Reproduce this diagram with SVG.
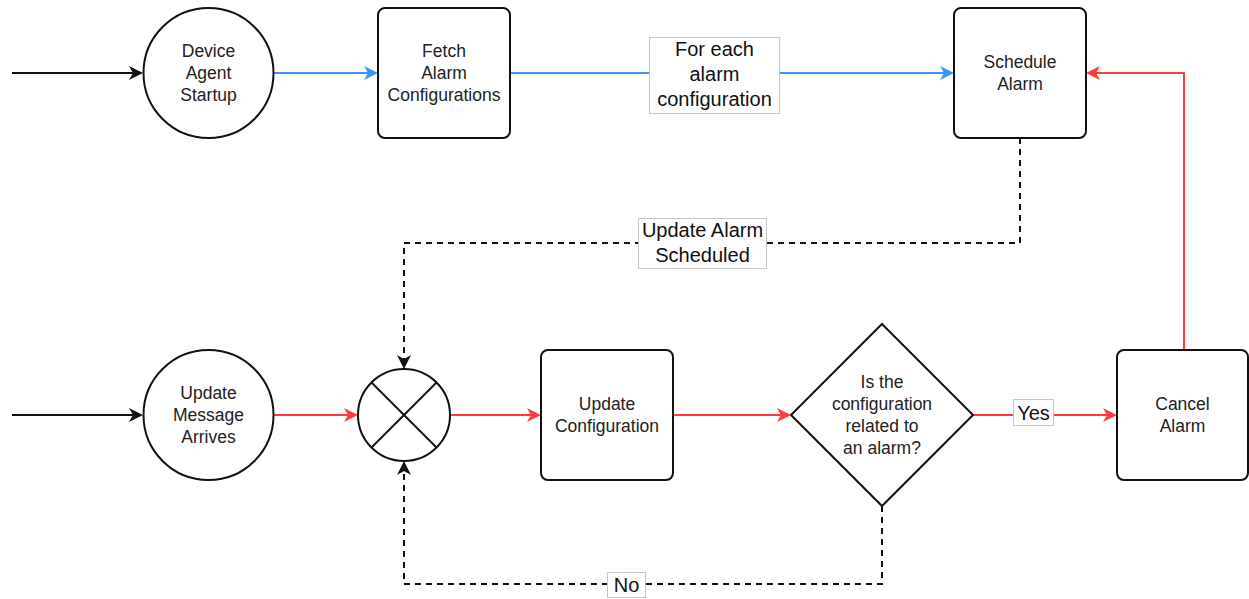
<svg xmlns="http://www.w3.org/2000/svg" width="1249" height="599" viewBox="0 0 1249 599">
  <defs>
    <style>
      .node { fill: #ffffff; stroke: #111111; stroke-width: 2; }
      .ntext { font-family: "Liberation Sans", Arial, sans-serif; font-size: 17.5px; fill: #222222; text-anchor: middle; dominant-baseline: central; }
      .ltext { font-family: "Liberation Sans", Arial, sans-serif; font-size: 20px; fill: #111111; text-anchor: middle; dominant-baseline: central; }
      .lbox { fill: #ffffff; stroke: #c8c8c8; stroke-width: 1; }
      .edge { fill: none; stroke-width: 2; }
      .black { stroke: #111111; }
      .blue { stroke: #3d94f6; }
      .red { stroke: #ff3b3b; }
      .dash { stroke: #111111; stroke-dasharray: 6 5; }
    </style>
    <!-- open-back arrowheads, one per connector colour -->
    <marker id="ah-black" markerUnits="userSpaceOnUse" markerWidth="16" markerHeight="16" refX="11" refY="8" orient="auto">
      <path d="M1,1 L15,8 L1,15 L5,8 z" fill="#111111" stroke="none"/>
    </marker>
    <marker id="ah-blue" markerUnits="userSpaceOnUse" markerWidth="16" markerHeight="16" refX="11" refY="8" orient="auto">
      <path d="M1,1 L15,8 L1,15 L5,8 z" fill="#3d94f6" stroke="none"/>
    </marker>
    <marker id="ah-red" markerUnits="userSpaceOnUse" markerWidth="16" markerHeight="16" refX="11" refY="8" orient="auto">
      <path d="M1,1 L15,8 L1,15 L5,8 z" fill="#ff3b3b" stroke="none"/>
    </marker>
  </defs>

  <rect width="1249" height="599" fill="#ffffff"/>

  <!-- connectors -->
  <g id="connectors">
    <path class="edge black" d="M12,73 H139" marker-end="url(#ah-black)"/>
    <path class="edge blue" d="M274,73 H374" marker-end="url(#ah-blue)"/>
    <path class="edge blue" d="M510,73 H950" marker-end="url(#ah-blue)"/>
    <path class="edge red" d="M1184,350 V73 H1090" marker-end="url(#ah-red)"/>
    <path class="edge dash" d="M1020,138 V243 H404 V365" marker-end="url(#ah-black)"/>
    <path class="edge black" d="M12,415 H139" marker-end="url(#ah-black)"/>
    <path class="edge red" d="M274,415 H354" marker-end="url(#ah-red)"/>
    <path class="edge red" d="M450,415 H537" marker-end="url(#ah-red)"/>
    <path class="edge red" d="M673,415 H787" marker-end="url(#ah-red)"/>
    <path class="edge red" d="M973,415 H1113" marker-end="url(#ah-red)"/>
    <path class="edge dash" d="M882,506 V584 H404 V465" marker-end="url(#ah-black)"/>

    <!-- edge labels -->
    <g id="label-for-each">
      <rect class="lbox" x="649.5" y="37.5" width="130" height="76"/>
      <text class="ltext" x="714.5" y="49">For each</text>
      <text class="ltext" x="714.5" y="74">alarm</text>
      <text class="ltext" x="714.5" y="99">configuration</text>
    </g>
    <g id="label-update-scheduled">
      <rect class="lbox" x="638.5" y="218.5" width="128" height="50"/>
      <text class="ltext" x="702.5" y="230">Update Alarm</text>
      <text class="ltext" x="702.5" y="255">Scheduled</text>
    </g>
    <g id="label-yes">
      <rect class="lbox" x="1013.5" y="399.5" width="40" height="26"/>
      <text class="ltext" x="1033.5" y="413">Yes</text>
    </g>
    <g id="label-no">
      <rect class="lbox" x="607.5" y="572.5" width="38" height="25"/>
      <text class="ltext" x="626.5" y="585">No</text>
    </g>
  </g>

  <!-- nodes -->
  <g id="device-agent-startup">
    <circle class="node" cx="208.5" cy="73" r="65"/>
    <text class="ntext" x="208.5" y="51">Device</text>
    <text class="ntext" x="208.5" y="73">Agent</text>
    <text class="ntext" x="208.5" y="95">Startup</text>
  </g>

  <g id="fetch-alarm-configurations">
    <rect class="node" x="378" y="8" width="132" height="130" rx="7"/>
    <text class="ntext" x="444" y="51">Fetch</text>
    <text class="ntext" x="444" y="73">Alarm</text>
    <text class="ntext" x="444" y="95">Configurations</text>
  </g>

  <g id="schedule-alarm">
    <rect class="node" x="954" y="8" width="132" height="130" rx="7"/>
    <text class="ntext" x="1020" y="62">Schedule</text>
    <text class="ntext" x="1020" y="84">Alarm</text>
  </g>

  <g id="update-message-arrives">
    <circle class="node" cx="208.5" cy="415" r="65"/>
    <text class="ntext" x="208.5" y="393">Update</text>
    <text class="ntext" x="208.5" y="415">Message</text>
    <text class="ntext" x="208.5" y="437">Arrives</text>
  </g>

  <g id="merge">
    <circle class="node" cx="404" cy="415" r="46"/>
    <path d="M371.5,382.5 L436.5,447.5 M436.5,382.5 L371.5,447.5" stroke="#111111" stroke-width="2" fill="none"/>
  </g>

  <g id="update-configuration">
    <rect class="node" x="541" y="350" width="132" height="130" rx="7"/>
    <text class="ntext" x="607" y="404">Update</text>
    <text class="ntext" x="607" y="426">Configuration</text>
  </g>

  <g id="is-related-to-alarm">
    <polygon class="node" points="882,324 973,415 882,506 791,415"/>
    <text class="ntext" x="882" y="382">Is the</text>
    <text class="ntext" x="882" y="404">configuration</text>
    <text class="ntext" x="882" y="426">related to</text>
    <text class="ntext" x="882" y="448">an alarm?</text>
  </g>

  <g id="cancel-alarm">
    <rect class="node" x="1117" y="350" width="131" height="130" rx="7"/>
    <text class="ntext" x="1182.5" y="404">Cancel</text>
    <text class="ntext" x="1182.5" y="426">Alarm</text>
  </g>
</svg>
